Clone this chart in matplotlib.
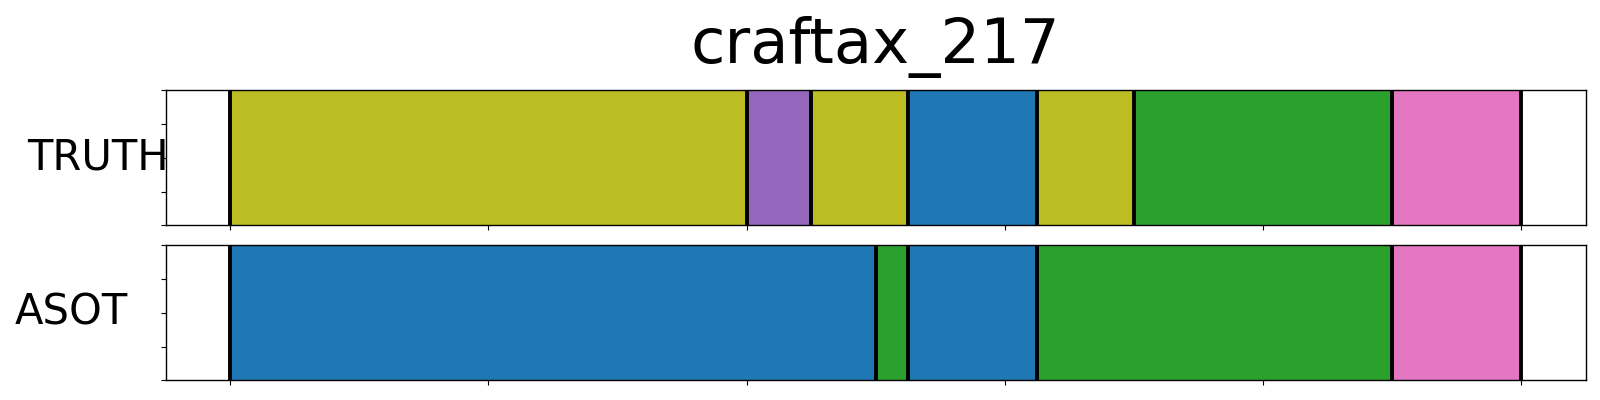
import matplotlib
matplotlib.use("Agg")
import matplotlib.pyplot as plt

title = "craftax_217"
row_names = ["TRUTH", "ASOT"]

truth_bounds = [0, 40, 45, 52.5, 62.5, 70, 90, 100]
truth_labels = ["olive", "purple", "olive", "blue", "olive", "green", "pink"]

asot_bounds = [0, 50, 52.5, 62.5, 90, 100]
asot_labels = ["blue", "green", "blue", "green", "pink"]

xtick_values = [0, 20, 40, 60, 80, 100]
ytick_values = [0, 0.25, 0.5, 0.75, 1.0]

palette = {
    "blue": "#1f77b4",
    "green": "#2ca02c",
    "purple": "#9467bd",
    "pink": "#e377c2",
    "olive": "#bcbd22",
}

W, H = 1600, 400
fig = plt.figure(figsize=(16, 4), dpi=100)

left = 165.7 / W
width = (1585.7 - 165.7) / W
ax_h = 135 / H
ax1 = fig.add_axes([left, (H - 225.3) / H, width, ax_h])
ax2 = fig.add_axes([left, (H - 380.3) / H, width, ax_h])

label_x = [97.5, 71.3]

for ax, bounds, labels, name, lx in zip(
    [ax1, ax2], [truth_bounds, asot_bounds], [truth_labels, asot_labels], row_names, label_x
):
    for a, b, lab in zip(bounds[:-1], bounds[1:], labels):
        ax.axvspan(a, b, ymin=0, ymax=1, facecolor=palette[lab], edgecolor=palette[lab], lw=0.8)
    for bnd in bounds:
        ax.axvline(bnd, color="black", lw=2.8, zorder=3)
    span = bounds[-1] - bounds[0]
    ax.set_xlim(bounds[0] - 0.05 * span, bounds[-1] + 0.05 * span)
    ax.set_ylim(0, 1)
    ax.set_xticks(xtick_values)
    ax.set_xticklabels([])
    ax.set_yticks(ytick_values)
    ax.set_yticklabels([])
    for s in ax.spines.values():
        s.set_linewidth(1.0)
    fig.text(lx / W, 0, name, fontsize=30, ha="center", va="center",
             transform=fig.transFigure, zorder=10)

# place row labels vertically centered on their axes
for t, ax in zip(fig.texts, [ax1, ax2]):
    pos = ax.get_position()
    t.set_y(pos.y0 + pos.height / 2)

fig.text(875.7 / W, (H - 63.3) / H, title, fontsize=45, ha="center", va="baseline")

fig.savefig("out.png", dpi=100)
